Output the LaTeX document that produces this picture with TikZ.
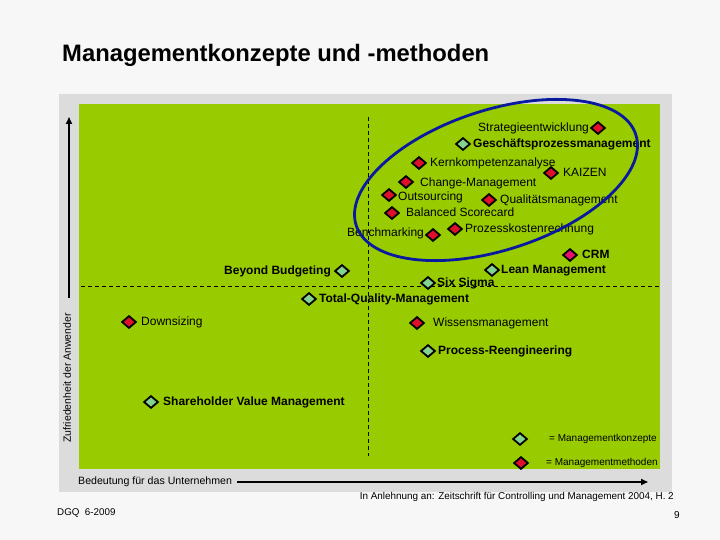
\documentclass[tikz,border=0pt]{standalone}
\usepackage{fontspec}
\setmainfont{Liberation Sans}
\usetikzlibrary{shapes.geometric,arrows.meta}
\definecolor{pagebg}{HTML}{F7F7F7}
\definecolor{panelgray}{HTML}{DCDCDC}
\definecolor{fieldgreen}{HTML}{99CC00}
\definecolor{konzgreen}{HTML}{82D490}
\definecolor{methred}{HTML}{E0102C}
\definecolor{crmred}{HTML}{E8106A}
\definecolor{ovalblue}{HTML}{0A1AA0}
\begin{document}
\begin{tikzpicture}[x=1pt,y=-1pt,
  dia/.style={diamond,draw=black,line width=1.8pt,inner sep=0pt,minimum width=14.5pt,minimum height=12.5pt},
  md/.style={dia,fill=methred},
  kd/.style={dia,fill=konzgreen},
  lbl/.style={anchor=west,inner sep=0pt,font=\fontsize{12}{14}\selectfont,text height=8.6pt,text depth=2.4pt},
  blbl/.style={lbl,font=\fontsize{12}{14}\selectfont\bfseries},
  small/.style={inner sep=0pt,font=\fontsize{10}{12}\selectfont,text height=7.2pt,text depth=2pt},
  axis/.style={line width=1.6pt,-{Triangle[length=7pt,width=6pt]}},
  guide/.style={line width=0.8pt,dash pattern=on 4pt off 3pt}
]
\fill[pagebg] (0,0) rectangle (720,540);
\useasboundingbox (0,0) rectangle (720,540);
\node[anchor=west,inner sep=0pt,font=\fontsize{23.8}{28}\selectfont\bfseries] (title) at (62,55) {Managementkonzepte und -methoden};
\fill[panelgray] (59,94) rectangle (672,492);
\fill[fieldgreen] (79,104) rectangle (660,469);
% guides
\coordinate (vtop) at (368,117);
\coordinate (vbot) at (368,456);
\coordinate (hl) at (81,286);
\coordinate (hr) at (660,286);
\draw[guide] (vtop) -- (vbot);
\draw[guide] (hl) -- (hr);
% axes
\coordinate (yfrom) at (69,298);
\coordinate (yto) at (69,117);
\draw[axis] (yfrom) -- (yto);
\node[rotate=90,inner sep=0pt,font=\fontsize{10.5}{12}\selectfont] (ylab) at (67,378) {Zufriedenheit der Anwender};
\node[anchor=west,inner sep=0pt,font=\fontsize{10.6}{12}\selectfont] (xlab) at (78,482) {Bedeutung für das Unternehmen};
\coordinate (xto) at (648,482);
\draw[axis] (xlab.east) ++(5,0) coordinate (xfrom) -- (xto);
% items
\node[md] (d1) at (598,128) {};
\node[lbl] (t1) at (478,128) {Strategieentwicklung};
\node[kd] (d2) at (463,144) {};
\node[blbl] (t2) at (473,144) {Geschäftsprozessmanagement};
\node[md] (d3) at (419,163) {};
\node[lbl] (t3) at (430,163) {Kernkompetenzanalyse};
\node[md] (d4) at (551,173) {};
\node[lbl] (t4) at (563,173) {KAIZEN};
\node[md] (d5) at (406,182) {};
\node[lbl] (t5) at (420,183) {Change-Management};
\node[md] (d6) at (389,195) {};
\node[lbl] (t6) at (398,197) {Outsourcing};
\node[md] (d7) at (489,200) {};
\node[lbl] (t7) at (500,200) {Qualitätsmanagement};
\node[md] (d8) at (392,213) {};
\node[lbl] (t8) at (406,213) {Balanced Scorecard};
\node[md] (d9) at (455,229) {};
\node[lbl] (t9) at (465,229) {Prozesskostenrechnung};
\node[lbl] (t10) at (347,233) {Benchmarking};
\node[md] (d10) at (433,235) {};
\node[dia,fill=crmred] (d11) at (570,255) {};
\node[blbl] (t11) at (582,255) {CRM};
\node[kd] (d12) at (492,270) {};
\node[blbl] (t12) at (501,270) {Lean Management};
\node[blbl] (t13) at (224,271) {Beyond Budgeting};
\node[kd] (d13) at (342,271) {};
\node[kd] (d14) at (428,283) {};
\node[blbl] (t14) at (437,283) {Six Sigma};
\node[kd] (d15) at (309,299) {};
\node[blbl] (t15) at (319,299) {Total-Quality-Management};
\node[md] (d16) at (417,323) {};
\node[lbl] (t16) at (433,323) {Wissensmanagement};
\node[kd] (d17) at (428,351) {};
\node[blbl] (t17) at (438,351) {Process-Reengineering};
\node[md] (d18) at (129,322) {};
\node[lbl] (t18) at (141,322) {Downsizing};
\node[kd] (d19) at (151,402) {};
\node[blbl] (t19) at (163,402) {Shareholder Value Management};
% oval
\draw[ovalblue,line width=2.8pt,rotate around={18:(496,180)}] (496,180) ellipse [x radius=147, y radius=70];
% legend
\node[kd] (lg1) at (520,439) {};
\node[small,anchor=west] (lt1) at (549,439) {= Managementkonzepte};
\node[md] (lg2) at (521,463) {};
\node[small,anchor=west] (lt2) at (546,463) {= Managementmethoden};
% footer
\node[anchor=east,inner sep=0pt,font=\fontsize{9.9}{11}\selectfont] (src) at (674,497) {In Anlehnung an: Zeitschrift für Controlling und Management 2004, H. 2};
\node[anchor=west,inner sep=0pt,font=\fontsize{9.8}{11}\selectfont] (dgq) at (57,513) {DGQ\ \ 6-2009};
\node[inner sep=0pt,font=\fontsize{10}{11}\selectfont] (page) at (677,515) {9};
\end{tikzpicture}
\end{document}
